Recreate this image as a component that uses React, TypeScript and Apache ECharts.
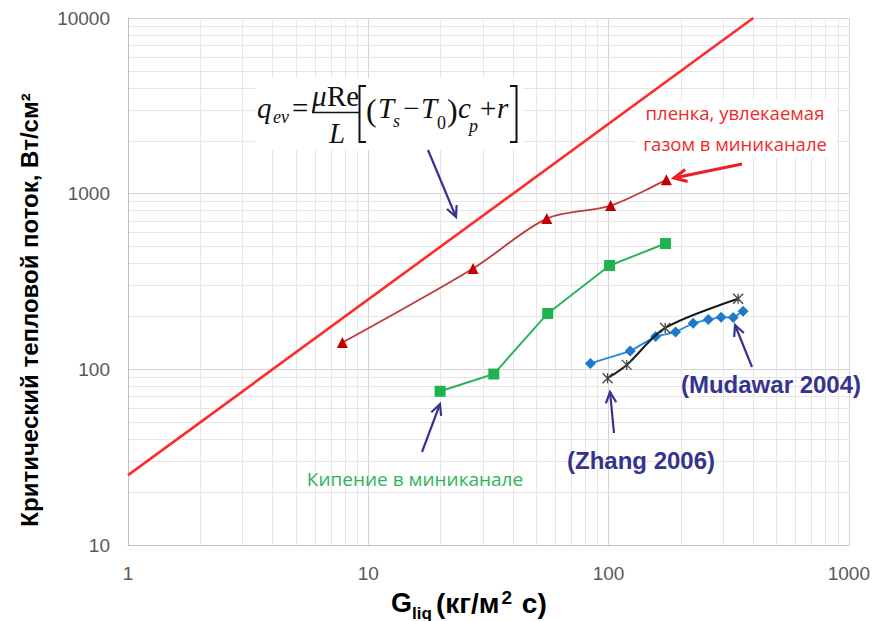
import React, { useEffect, useRef } from "react";
import * as echarts from "echarts";

// ---- data ----
const critX = [1, 400];
const critY = [25, 10000];
const filmX = [7.8, 27.3, 55.3, 102, 174];
const filmY = [142, 375, 721, 855, 1202];
const boilX = [19.9, 33.3, 55.8, 101, 172.5];
const boilY = [75, 94, 208, 390, 520];
const mudX = [84, 123, 157, 190, 225, 260, 294, 330, 363];
const mudY = [108, 127, 154, 163, 183, 192, 198, 197, 214];
const zhX = [99, 119, 172, 346];
const zhY = [89, 106, 172, 252];
const xMinorGrid = [2, 3, 4, 5, 6, 7, 8, 9, 20, 30, 40, 50, 60, 70, 80, 90, 200, 300, 400, 500, 600, 700, 800, 900];
const yMinorGrid = [20, 30, 40, 50, 60, 70, 80, 90, 200, 300, 400, 500, 600, 700, 800, 900, 2000, 3000, 4000, 5000, 6000, 7000, 8000, 9000];

const yTitle = "Критический тепловой поток, Вт/см²";
const filmLabel = "пленка, увлекаемая\nгазом в миниканале";
const boilLabel = "Кипение в миниканале";
const zhangLabel = "(Zhang 2006)";
const mudLabel = "(Mudawar 2004)";

const pairs = (xs: number[], ys: number[]) => xs.map((x, i) => [x, ys[i]]);

const SERIF = '"Liberation Serif", "Times New Roman", serif';
const SANS = '"Liberation Sans", Arial, sans-serif';
const BLUE = "#34348f";

function arrow(x1: number, y1: number, x2: number, y2: number, color: string, width: number, head: number) {
  const a = Math.atan2(y2 - y1, x2 - x1);
  const sp = 0.45;
  const p1 = [x2 - head * Math.cos(a - sp), y2 - head * Math.sin(a - sp)];
  const p2 = [x2 - head * Math.cos(a + sp), y2 - head * Math.sin(a + sp)];
  return [
    { type: "line", z: 20, shape: { x1, y1, x2, y2 }, style: { stroke: color, lineWidth: width } },
    { type: "polyline", z: 20, shape: { points: [p1, [x2, y2], p2] }, style: { stroke: color, lineWidth: width, fill: null } },
  ];
}

function ftext(text: string, x: number, y: number, size: number, italic: boolean, align = "left") {
  return {
    type: "text",
    z: 20,
    x,
    y,
    style: {
      text,
      fontFamily: SERIF,
      fontSize: size,
      fontStyle: italic ? "italic" : "normal",
      fill: "#111",
      align,
      verticalAlign: "middle",
    },
  };
}

export default function App() {
  const ref = useRef<HTMLDivElement>(null);
  useEffect(() => {
    document.body.style.margin = "0";
    const chart = echarts.init(ref.current!, undefined, { renderer: "svg" });
    const mainY = 107.5;
    const tickFmt = (v: number) => String(v);
    const option: any = {
      animation: false,
      backgroundColor: "#fff",
      grid: { left: 128, right: 23, top: 18, bottom: 76 },
      xAxis: {
        type: "log",
        logBase: 10,
        min: 1,
        max: 1000,
        axisLabel: { color: "#595959", fontSize: 19, fontFamily: SANS, margin: 19, formatter: tickFmt },
        axisLine: { lineStyle: { color: "#bfbfbf" } },
        axisTick: { show: false },
        splitLine: { show: true, lineStyle: { color: "#d4d4d4" } },
      },
      yAxis: {
        type: "log",
        logBase: 10,
        min: 10,
        max: 10000,
        axisLabel: { color: "#595959", fontSize: 19, fontFamily: SANS, margin: 18, formatter: tickFmt },
        axisLine: { show: true, lineStyle: { color: "#bfbfbf" } },
        axisTick: { show: false },
        splitLine: { show: true, lineStyle: { color: "#d4d4d4" } },
      },
      series: [
        {
          type: "line",
          data: [],
          z: 0,
          silent: true,
          markLine: {
            z: 0,
            silent: true,
            symbol: ["none", "none"],
            label: { show: false },
            lineStyle: { color: "#e6e6e6", width: 1, type: "solid" },
            emphasis: { disabled: true },
            data: [...xMinorGrid.map((v) => ({ xAxis: v })), ...yMinorGrid.map((v) => ({ yAxis: v }))],
          },
        },
        {
          type: "line",
          z: 3,
          data: pairs(critX, critY),
          showSymbol: false,
          symbol: "none",
          lineStyle: { color: "#ff2a2a", width: 2.6 },
        },
        {
          type: "line",
          z: 3,
          data: pairs(filmX, filmY),
          smooth: 0.3,
          symbol: "triangle",
          symbolSize: 11,
          itemStyle: { color: "#c00000" },
          lineStyle: { color: "#c0393b", width: 1.8 },
        },
        {
          type: "line",
          z: 3,
          data: pairs(boilX, boilY),
          symbol: "rect",
          symbolSize: 11,
          itemStyle: { color: "#1fb24f" },
          lineStyle: { color: "#2bb55a", width: 2 },
        },
        {
          type: "line",
          z: 3,
          data: pairs(mudX, mudY),
          symbol: "diamond",
          symbolSize: 11,
          itemStyle: { color: "#1f78c8" },
          lineStyle: { color: "#2a88d8", width: 1.8 },
        },
        {
          type: "line",
          z: 4,
          data: pairs(zhX, zhY),
          smooth: 0.3,
          symbol: "path://M0,0L10,10M10,0L0,10M5,0L5,10",
          symbolSize: 10,
          itemStyle: { color: "none", borderColor: "#444", borderWidth: 1.3 },
          lineStyle: { color: "#1a1a1a", width: 2 },
        },
      ],
      graphic: [
        // white backgrounds
        { type: "rect", z: 1, shape: { x: 255, y: 78, width: 268, height: 72 }, style: { fill: "#fff" } },
        { type: "rect", z: 1, shape: { x: 636, y: 100, width: 200, height: 58 }, style: { fill: "#fff" } },
        // formula
        ftext("q", 257, mainY, 29, true),
        ftext("ev", 273, 117, 18, true),
        ftext("=", 292, mainY, 29, false),
        ftext("μ", 312, 95.5, 29, true),
        ftext("Re", 327, 95.5, 29, false),
        { type: "line", z: 20, shape: { x1: 312, y1: 112.5, x2: 359, y2: 112.5 }, style: { stroke: "#111", lineWidth: 1.5 } },
        ftext("L", 337, 132.5, 29, true, "center"),
        { type: "polyline", z: 20, shape: { points: [[366, 86], [359.5, 86], [359.5, 142], [366, 142]] }, style: { stroke: "#111", lineWidth: 2, fill: null } },
        ftext("(", 366, 110, 32, false),
        ftext("T", 378, mainY, 29, true),
        ftext("s", 393, 121, 18, true),
        ftext("−", 403, mainY, 29, false),
        ftext("T", 421, mainY, 29, true),
        ftext("0", 437, 123, 18, false),
        ftext(")", 447, 110, 32, false),
        ftext("c", 458, mainY, 29, true),
        ftext("p", 469, 126, 18, true),
        ftext("+", 480, mainY, 29, false),
        ftext("r", 497, mainY, 29, true),
        { type: "polyline", z: 20, shape: { points: [[510, 86], [516.5, 86], [516.5, 142], [510, 142]] }, style: { stroke: "#111", lineWidth: 2, fill: null } },
        // annotations
        ...arrow(428, 150, 456, 217, BLUE, 2.2, 12),
        {
          type: "text",
          z: 20,
          x: 735,
          y: 128,
          style: {
            text: filmLabel,
            fontFamily: '"Open Sans", sans-serif',
            fontSize: 18.5,
            lineHeight: 31,
            fill: "#ee2a2a",
            align: "center",
            verticalAlign: "middle",
          },
        },
        ...arrow(742, 164, 674, 178, "#ee1c24", 3, 14),
        {
          type: "text",
          z: 20,
          x: 415,
          y: 479,
          style: {
            text: boilLabel,
            fontFamily: '"Open Sans", sans-serif',
            fontSize: 19,
            fill: "#2db35c",
            align: "center",
            verticalAlign: "middle",
          },
        },
        ...arrow(422, 452, 440, 404, BLUE, 2.2, 12),
        {
          type: "text",
          z: 20,
          x: 641,
          y: 460,
          style: { text: zhangLabel, fontFamily: SANS, fontWeight: "bold", fontSize: 24, fill: BLUE, align: "center", verticalAlign: "middle" },
        },
        ...arrow(614, 433, 610, 392, BLUE, 2.2, 12),
        {
          type: "text",
          z: 20,
          x: 771,
          y: 384,
          style: { text: mudLabel, fontFamily: SANS, fontWeight: "bold", fontSize: 24, fill: BLUE, align: "center", verticalAlign: "middle" },
        },
        ...arrow(752, 367, 735, 325, BLUE, 2.2, 12),
        // axis titles
        {
          type: "text",
          z: 20,
          x: 29,
          y: 310,
          rotation: Math.PI / 2,
          style: { text: yTitle, fontFamily: SANS, fontWeight: "bold", fontSize: 24, fill: "#000", align: "center", verticalAlign: "middle" },
        },
        {
          type: "text",
          z: 20,
          x: 391,
          y: 603,
          style: { text: "G", fontFamily: SANS, fontWeight: "bold", fontSize: 27, fill: "#000", align: "left", verticalAlign: "middle" },
        },
        {
          type: "text",
          z: 20,
          x: 412,
          y: 613,
          style: { text: "liq", fontFamily: SANS, fontWeight: "bold", fontSize: 17, fill: "#000", align: "left", verticalAlign: "middle" },
        },
        {
          type: "text",
          z: 20,
          x: 436,
          y: 603,
          style: {
            text: "(кг/м{sup|2} с)",
            fontFamily: SANS,
            fontWeight: "bold",
            fontSize: 28,
            lineHeight: 30,
            fill: "#000",
            align: "left",
            verticalAlign: "middle",
            rich: {
              sup: { fontFamily: SANS, fontWeight: "bold", fontSize: 19, verticalAlign: "top", lineHeight: 30, padding: [0, 2, 0, 2] },
            },
          },
        },
      ],
    };
    chart.setOption(option);
    return () => chart.dispose();
  }, []);
  return <div ref={ref} style={{ width: 873, height: 621 }} />;
}
